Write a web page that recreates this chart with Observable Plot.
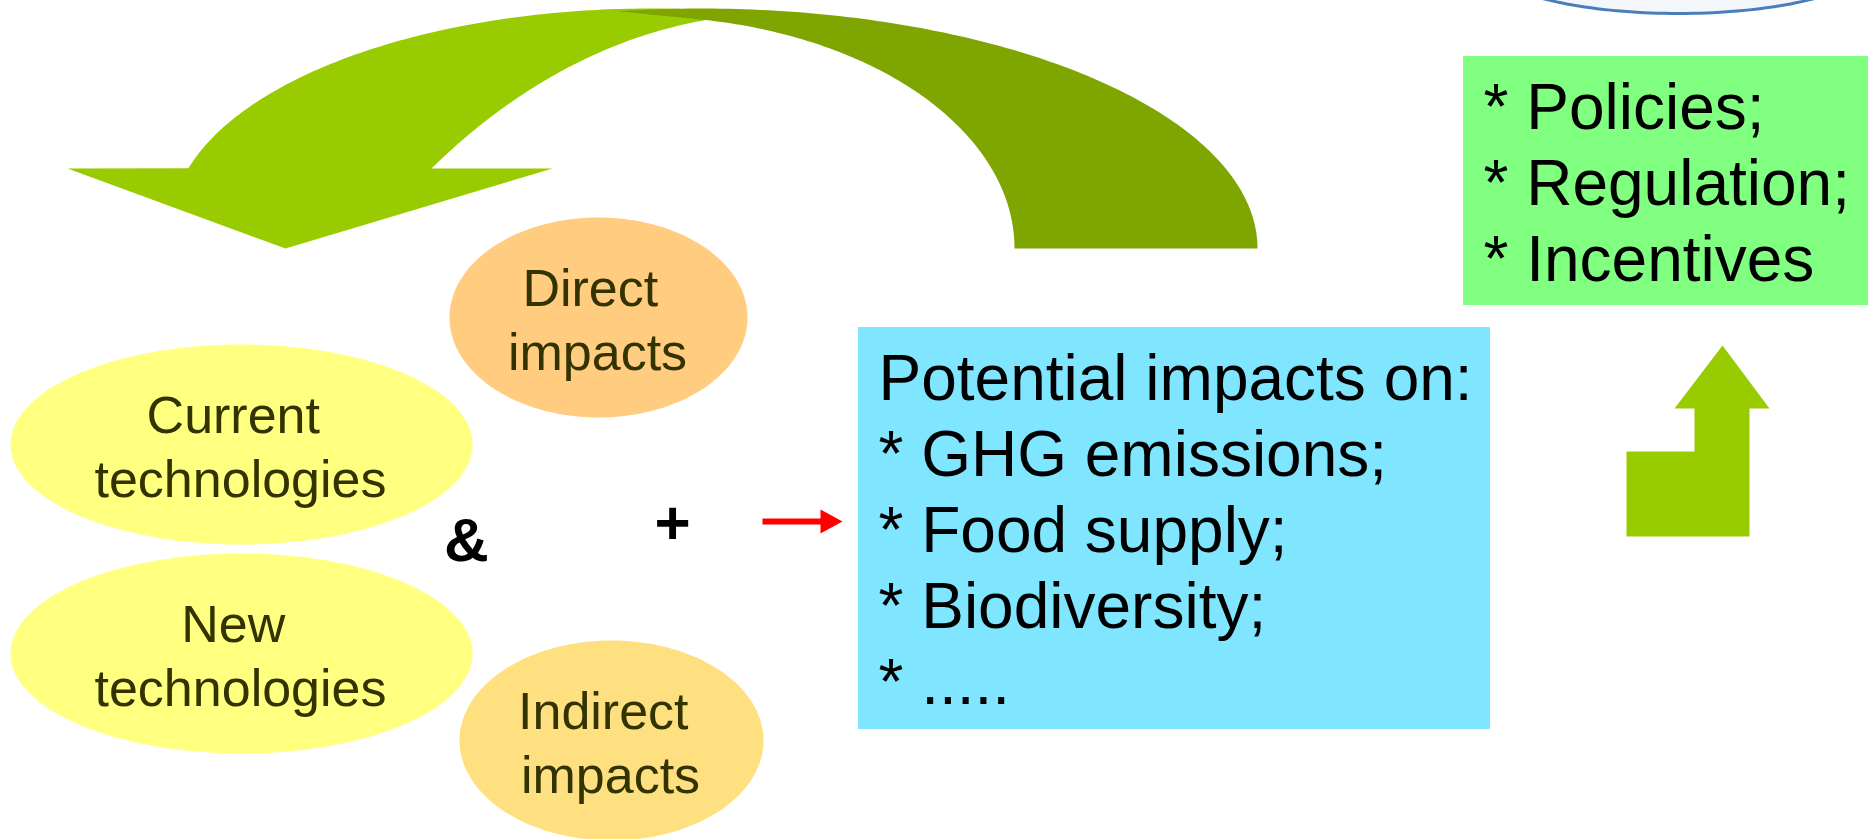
<!DOCTYPE html>
<html>
<head>
<meta charset="utf-8">
<script src="https://cdn.jsdelivr.net/npm/d3@7"></script>
<script src="https://cdn.jsdelivr.net/npm/@observablehq/plot@0.6"></script>
<style>
  html, body { margin: 0; padding: 0; background: #ffffff; overflow: hidden; }
  #chart svg { display: block; }
</style>
</head>
<body>
<div id="chart"></div>
<script>
const W = 1868, H = 839;

// ---------- values (pixel units of the 1868 x 839 frame) ----------
// Oval nodes (first lines carry a trailing space, as in the original slide)
const ovalLines = [["Current ", "technologies"], ["New ", "technologies"], ["Direct ", "impacts"], ["Indirect ", "impacts"]];
const ovalCx    = [241, 241, 598, 611];
const ovalCy    = [444, 653, 317, 740];
const ovalRx    = [231, 231, 149, 152];
const ovalRy    = [100, 100, 100, 100];
const ovalKind  = ["tech", "tech", "direct", "indirect"];

// Rectangular boxes
const boxLines = [
  ["Potential impacts on:", "* GHG emissions;", "* Food supply;", "* Biodiversity;", "* ....."],
  ["* Policies;", "* Regulation;", "* Incentives"]
];
const boxX1 = [858, 1463];
const boxX2 = [1490, 1868];
const boxY1 = [327, 56];
const boxY2 = [729, 305];
const boxKind = ["impacts", "instruments"];

// Partly visible oval at the top right
const topOvalCx = 1678, topOvalCy = -43, topOvalRx = 200, topOvalRy = 56;

// Curved arrow: elliptical arcs (center, radii, start/end angle in degrees)
const arcName = ["lightOuter", "lightInner", "darkOuter", "darkInner"];
const arcCx   = [650, 780, 700, 640];
const arcCy   = [225, 900, 248, 248];
const arcRx   = [479, 618, 557, 374];
const arcRy   = [217, 887, 240, 232];
const arcFrom = [164.7, 91.85, 98.6, 0];
const arcTo   = [76.7, 124.4, 0, 79.2];

// Arrow head of the curved arrow (left base, tip, right base)
const headX = [67, 285, 552];
const headY = [168, 248, 168];

// Bent up-arrow outline
const upX = [1722, 1769, 1749, 1749, 1626, 1626, 1694, 1694, 1674];
const upY = [345, 408, 408, 536, 536, 451, 451, 408, 408];

// Small red arrow outline
const redX = [762, 820, 820, 842, 820, 820, 762];
const redY = [518, 518, 509, 521, 533, 524, 524];

// Operators between the groups
const opText = ["&", "+"];
const opX = [466, 672];
const opBaseline = [560, 543];

// ---------- styles ----------
const colors = {
  tech: "#FFFF80", direct: "#FFCC80", indirect: "#FFE080",
  impacts: "#80E5FF", instruments: "#80FF80",
  light: "#99CC00", dark: "#7FA600", red: "#FF0000",
  ovalText: "#333300", boxText: "#000000",
  topFill: "#F3F7FB", topStroke: "#4A7EBB"
};
const FONT = "Liberation Sans, Arial, Helvetica, sans-serif";
const ovalFont = 52, ovalLead = 64;
const boxFont = 64, boxLead = 76;
const opFont = 62;

// ---------- geometry helpers ----------
function arcPoints(i, n = 120) {
  const a0 = arcFrom[i] * Math.PI / 180, a1 = arcTo[i] * Math.PI / 180;
  const pts = [];
  for (let k = 0; k <= n; k++) {
    const a = a0 + (a1 - a0) * k / n;
    pts.push({x: arcCx[i] + arcRx[i] * Math.cos(a), y: arcCy[i] - arcRy[i] * Math.sin(a)});
  }
  return pts;
}
function ellipsePoints(cx, cy, rx, ry, n = 180) {
  const pts = [];
  for (let k = 0; k <= n; k++) {
    const a = 2 * Math.PI * k / n;
    pts.push({x: cx + rx * Math.cos(a), y: cy + ry * Math.sin(a)});
  }
  return pts;
}

// light (front-left) part of the curved arrow with its head
const lightShape = [
  {x: headX[0], y: headY[0]},
  ...arcPoints(0),
  ...arcPoints(1),
  {x: headX[2], y: headY[2]},
  {x: headX[1], y: headY[1]}
];
// dark (right) part of the curved arrow
const darkShape = [...arcPoints(2), ...arcPoints(3)];

const upShape = upX.map((x, i) => ({x, y: upY[i]}));
const redShape = redX.map((x, i) => ({x, y: redY[i]}));
const topOval = ellipsePoints(topOvalCx, topOvalCy, topOvalRx, topOvalRy);

const ovals = ovalCx.map((cx, i) => ({i, pts: ellipsePoints(cx, ovalCy[i], ovalRx[i], ovalRy[i])}));

const boxes = boxX1.map((x1, i) => ({x1, x2: boxX2[i], y1: boxY1[i], y2: boxY2[i], fill: colors[boxKind[i]]}));

// text rows (lineAnchor "top" puts the baseline 0.71em below y)
const ovalText = [];
ovalLines.forEach((lines, i) => lines.forEach((t, j) => ovalText.push({
  text: t, x: ovalCx[i] - 1, y: ovalCy[i] - 12 + j * ovalLead - 0.71 * ovalFont
})));
const boxText = [];
boxLines.forEach((lines, i) => lines.forEach((t, j) => boxText.push({
  text: t, x: boxX1[i] + 20, y: boxY1[i] + 72 + j * boxLead - 0.71 * boxFont
})));
const opRows = opText.map((t, i) => ({text: t, x: opX[i], y: opBaseline[i] - 0.71 * opFont}));

const marks = [
  Plot.line(topOval, {x: "x", y: "y", fill: colors.topFill, stroke: colors.topStroke, strokeWidth: 3, clip: true}),
  Plot.line(lightShape, {x: "x", y: "y", fill: colors.light, stroke: "none"}),
  Plot.line(darkShape, {x: "x", y: "y", fill: colors.dark, stroke: "none"}),
  ...ovals.map(o => Plot.line(o.pts, {x: "x", y: "y", fill: colors[ovalKind[o.i]], stroke: "none"})),
  Plot.rect(boxes, {x1: "x1", x2: "x2", y1: "y1", y2: "y2", fill: "fill"}),
  Plot.line(upShape, {x: "x", y: "y", fill: colors.light, stroke: "none"}),
  Plot.line(redShape, {x: "x", y: "y", fill: colors.red, stroke: "none"}),
  Plot.text(ovalText, {x: "x", y: "y", text: "text", fontSize: ovalFont, fontFamily: FONT, fill: colors.ovalText, textAnchor: "middle", lineAnchor: "top"}),
  Plot.text(boxText, {x: "x", y: "y", text: "text", fontSize: boxFont, fontFamily: FONT, fill: colors.boxText, textAnchor: "start", lineAnchor: "top"}),
  Plot.text(opRows, {x: "x", y: "y", text: "text", fontSize: opFont, fontFamily: FONT, fontWeight: "bold", fill: "#000000", textAnchor: "middle", lineAnchor: "top"})
];

const chart = Plot.plot({
  width: W,
  height: H,
  margin: 0,
  x: {domain: [0, W], range: [0, W], axis: null},
  y: {domain: [0, H], range: [0, H], axis: null},
  color: {type: "identity"},
  style: {fontFamily: FONT, background: "#ffffff", overflow: "hidden"},
  marks
});
document.getElementById("chart").appendChild(chart);
</script>
</body>
</html>
